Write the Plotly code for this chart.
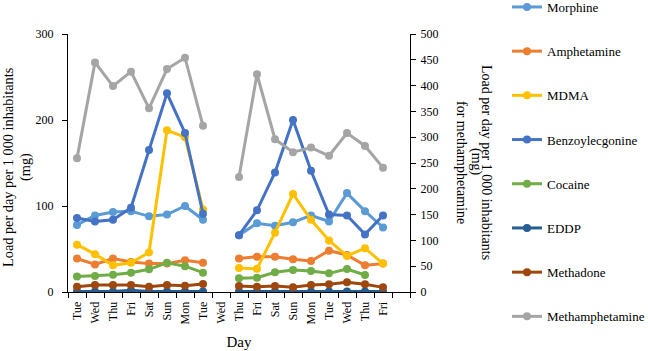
import plotly.graph_objects as go

days = ["Tue", "Wed", "Thu", "Fri", "Sat", "Sun", "Mon", "Tue", "Wed",
        "Thu", "Fri", "Sat", "Sun", "Mon", "Tue", "Wed", "Thu", "Fri", ""]
N = None
morphine = [78, 89, 93, 94, 88, 90, 100, 84, N, 66, 80, 77, 81, 89, 82, 115, 94, 75]
amphetamine = [39, 32, 39, 35, 33, 33, 37, 34, N, 39, 41, 41, 38, 36, 48, 43, 31, 33]
mdma = [55, 44, 31, 34, 46, 188, 180, 96, N, 28, 27, 69, 114, 84, 60, 42, 51, 33]
benzoylecgonine = [86, 82, 84, 98, 165, 231, 185, 91, N, 66, 95, 139, 200, 141, 90, 89, 67, 89]
cocaine = [18, 18.6, 20, 22.5, 26.4, 34, 30, 22.5, N, 16, 16.7, 23, 25.6, 24.4, 21.7, 26.7, 19.8, N]
eddp = [0.5, 0.5, 0.5, 2, 0.5, 0.5, 0.5, 0.5, N, 0.5, 0.5, 0.5, 0.5, 0.5, 0.5, 0.5, 0.5, 0.5]
methadone = [6.2, 8.1, 8.1, 8.1, 6.2, 8.1, 7.4, 9.3, N, 7, 6.2, 7, 5.4, 8.1, 8.9, 11.2, 8.9, 5.4]
methamphetamine = [259, 445, 399, 427, 356, 432, 454, 322, N, 223, 422, 296, 271, 280, 264, 308, 283, 241]

series = [
    ("Morphine", morphine, "#5B9BD5", "y"),
    ("Amphetamine", amphetamine, "#ED7D31", "y"),
    ("MDMA", mdma, "#FFC000", "y"),
    ("Benzoylecgonine", benzoylecgonine, "#4472C4", "y"),
    ("Cocaine", cocaine, "#70AD47", "y"),
    ("EDDP", eddp, "#255E91", "y"),
    ("Methadone", methadone, "#9E480E", "y"),
    ("Methamphetamine", methamphetamine, "#A5A5A5", "y2"),
]

FONT = "Liberation Serif"
xs = list(range(len(days)))
L, R, T, B = 68, 238, 34, 59
PW, PH = 648 - L - R, 351 - T - B


def px_x(p):
    return (p - L) / PW


def px_y(p):
    return (351 - B - p) / PH


fig = go.Figure()
for name, vals, color, ax in series:
    fig.add_trace(go.Scatter(
        x=xs[:len(vals)], y=vals, name=name, mode="lines+markers",
        line=dict(color=color, width=3), marker=dict(color=color, size=8),
        yaxis=ax, legendgroup=name, connectgaps=False))

fig.update_layout(
    width=648, height=351,
    margin=dict(l=L, r=R, t=T, b=B, autoexpand=False),
    paper_bgcolor="white", plot_bgcolor="white",
    font=dict(family=FONT, size=12, color="black"),
    showlegend=True,
    legend=dict(x=px_x(507), y=px_y(-8), xanchor="left", yanchor="top",
                font=dict(family=FONT, size=13), tracegroupgap=24.3,
                maxheight=1.0, bgcolor="rgba(0,0,0,0)"),
    xaxis=dict(range=[-0.5, 18.5], tickmode="array", tickvals=xs, ticktext=days,
               tickangle=-90, ticks="", showgrid=False, zeroline=False,
               showline=True, linecolor="black", linewidth=1, ticklabelstandoff=4,
               minor=dict(tickmode="linear", tick0=-0.5, dtick=1, ticks="outside",
                          ticklen=5, tickcolor="black", showgrid=False),
               title=dict(text="Day", font=dict(size=15), standoff=13),
               tickfont=dict(size=12)),
    yaxis=dict(range=[0, 300], tickvals=[0, 100, 200, 300], showgrid=False,
               zeroline=False, showline=True, linecolor="black", linewidth=1,
               ticks="outside", ticklen=5, tickcolor="black", ticklabelstandoff=6,
               tickfont=dict(size=12)),
    yaxis2=dict(range=[0, 500], tickvals=list(range(0, 501, 50)), overlaying="y",
                side="right", showgrid=False, zeroline=False, showline=True,
                linecolor="black", linewidth=1, ticks="outside", ticklen=5,
                tickcolor="black", ticklabelstandoff=2, tickfont=dict(size=12)),
)

left_lines = [("Load per day per 1 000 inhabitants", 8), ("(mg)", 25)]
for txt, cx in left_lines:
    fig.add_annotation(text=txt, xref="paper", yref="paper", x=px_x(cx), y=px_y(167),
                       textangle=-90, showarrow=False, font=dict(size=14.3),
                       xanchor="center", yanchor="middle")

right_lines = [("Load per day per 1 000 inhabitants", 487), ("(mg)", 476),
               ("for methamphetamine", 462)]
for txt, cx in right_lines:
    fig.add_annotation(text=txt, xref="paper", yref="paper", x=px_x(cx), y=px_y(162),
                       textangle=90, showarrow=False, font=dict(size=14),
                       xanchor="center", yanchor="middle")

fig.write_html("out.html", config={"displayModeBar": False},
               post_script="document.body.style.margin='0px';")
